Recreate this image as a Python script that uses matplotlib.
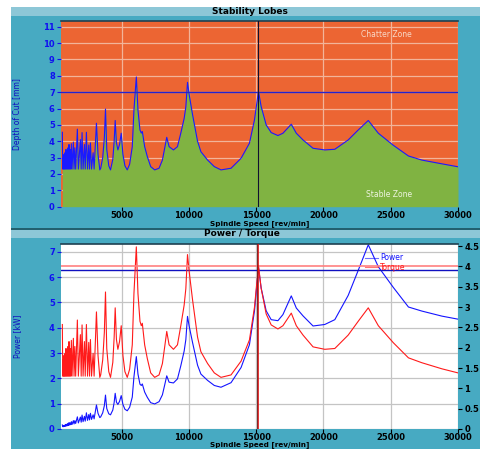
import matplotlib
matplotlib.use('Agg')
import matplotlib.pyplot as plt
from matplotlib.patches import Rectangle
from matplotlib.ticker import FuncFormatter

# spindle speed [rev/min] at the points
rpm = [600, 630, 665, 695, 730, 760, 800, 830, 870, 905, 945, 980, 1020, 1060,
       1095, 1140, 1180, 1225, 1269, 1320, 1418, 1470, 1530, 1590, 1716, 1790,
       1940, 2000, 2065, 2140, 2239, 2300, 2388, 2470, 2562, 2620, 2687, 2770,
       2886, 2960, 3134, 3250, 3383, 3450, 3600, 3720, 3806, 3900, 4050, 4179,
       4350, 4450, 4527, 4620, 4726, 4850, 4975, 5100, 5250, 5423, 5600, 5796,
       5920, 6097, 6219, 6368, 6468, 6542, 6716, 6915, 7164, 7463, 7786, 8035,
       8209, 8358, 8532, 8856, 9154, 9403, 9652, 9776, 9900, 10025, 10274,
       10647, 10896, 11393, 11891, 12388, 13134, 13881, 14502, 14875, 15174,
       15373, 15746, 16119, 16617, 16990, 17612, 17985, 18483, 19229, 20100,
       20846, 21841, 22587, 23333, 24080, 25199, 26318, 27313, 28806, 30000]

# stability limit, depth of cut [mm]
depth = [4.55, 2.30, 3.00, 2.30, 3.20, 2.30, 3.30, 2.30, 3.50, 2.30, 3.40, 2.30,
         3.60, 2.30, 3.80, 2.30, 3.50, 2.30, 3.85, 2.30, 3.95, 2.30, 3.60, 2.30,
         4.74, 2.30, 4.10, 2.30, 4.53, 2.30, 3.80, 2.30, 4.55, 2.30, 3.77, 2.30,
         3.90, 2.30, 3.30, 2.30, 5.10, 3.20, 2.25, 2.35, 3.00, 4.20, 5.97, 3.50,
         2.50, 2.25, 2.90, 4.00, 5.27, 3.90, 3.47, 3.80, 4.49, 3.20, 2.50, 2.25,
         2.60, 3.67, 5.90, 7.93, 5.90, 4.69, 4.50, 4.60, 3.67, 3.06, 2.45, 2.25,
         2.35, 2.85, 3.60, 4.24, 3.67, 3.47, 3.67, 4.50, 5.40, 6.10, 7.60, 6.85,
         5.63, 4.00, 3.36, 2.85, 2.45, 2.25, 2.35, 2.96, 3.88, 5.30, 7.05, 6.12,
         5.00, 4.53, 4.35, 4.49, 5.04, 4.49, 4.08, 3.57, 3.47, 3.51, 4.08, 4.69,
         5.27, 4.49, 3.75, 3.10, 2.85, 2.62, 2.44]

# spindle power [kW]
power = [0.16, 0.09, 0.12, 0.09, 0.14, 0.10, 0.16, 0.11, 0.18, 0.12, 0.19, 0.13,
         0.22, 0.14, 0.25, 0.16, 0.24, 0.17, 0.29, 0.18, 0.33, 0.20, 0.33, 0.22,
         0.48, 0.24, 0.47, 0.27, 0.55, 0.29, 0.50, 0.31, 0.64, 0.34, 0.57, 0.36,
         0.62, 0.38, 0.56, 0.40, 0.95, 0.62, 0.45, 0.48, 0.64, 0.92, 1.34, 0.81,
         0.60, 0.56, 0.75, 1.05, 1.41, 1.06, 0.97, 1.09, 1.32, 0.97, 0.78, 0.72,
         0.86, 1.26, 2.06, 2.86, 2.17, 1.77, 1.72, 1.78, 1.46, 1.25, 1.04, 0.99,
         1.08, 1.35, 1.75, 2.10, 1.85, 1.82, 1.98, 2.50, 3.08, 3.53, 4.45, 4.06,
         3.42, 2.52, 2.17, 1.92, 1.72, 1.65, 1.83, 2.43, 3.33, 4.66, 6.39, 5.57,
         4.67, 4.32, 4.28, 4.52, 5.26, 4.78, 4.47, 4.07, 4.13, 4.32, 5.28, 6.27,
         7.28, 6.41, 5.59, 4.82, 4.66, 4.46, 4.34]

# spindle torque [Nm]
torque = [2.57, 1.30, 1.70, 1.30, 1.81, 1.30, 1.86, 1.30, 1.98, 1.30, 1.92, 1.30,
          2.03, 1.30, 2.15, 1.30, 1.98, 1.30, 2.18, 1.30, 2.23, 1.30, 2.03, 1.30,
          2.68, 1.30, 2.32, 1.30, 2.56, 1.30, 2.15, 1.30, 2.57, 1.30, 2.13, 1.30,
          2.20, 1.30, 1.86, 1.30, 2.88, 1.81, 1.27, 1.33, 1.70, 2.37, 3.37, 1.98,
          1.41, 1.27, 1.64, 2.26, 2.98, 2.20, 1.96, 2.15, 2.54, 1.81, 1.41, 1.27,
          1.47, 2.07, 3.33, 4.48, 3.33, 2.65, 2.54, 2.60, 2.07, 1.73, 1.38, 1.27,
          1.33, 1.61, 2.03, 2.40, 2.07, 1.96, 2.07, 2.54, 3.05, 3.45, 4.29, 3.87,
          3.18, 2.26, 1.90, 1.61, 1.38, 1.27, 1.33, 1.67, 2.19, 2.99, 4.02, 3.46,
          2.83, 2.56, 2.46, 2.54, 2.85, 2.54, 2.31, 2.02, 1.96, 1.98, 2.31, 2.65,
          2.98, 2.54, 2.12, 1.75, 1.63, 1.48, 1.38]

depth_limit = 7.0
power_limit = 6.3
torque_limit = 4.0
marker_rpm = 15150

teal = '#47aac2'
bar = '#8dc7d7'
orange = '#ec6533'
green = '#80b342'

W, H = 480, 449
fig = plt.figure(figsize=(W / 100, H / 100), dpi=100)
fig.patch.set_facecolor('white')


def fx(px):
    return px / W


def fy(py):
    return 1 - py / H


# panel backgrounds
fig.patches.append(Rectangle((fx(11), fy(228)), 1, fy(7) - fy(228), transform=fig.transFigure,
                             facecolor=teal, edgecolor='none', zorder=-5))
fig.patches.append(Rectangle((fx(11), fy(16)), 1, fy(7) - fy(16), transform=fig.transFigure,
                             facecolor=bar, edgecolor='none', zorder=-4))
fig.patches.append(Rectangle((fx(11), 0), 1, fy(228), transform=fig.transFigure,
                             facecolor=teal, edgecolor='none', zorder=-5))
fig.patches.append(Rectangle((fx(11), fy(238)), 1, fy(229.5) - fy(238), transform=fig.transFigure,
                             facecolor=bar, edgecolor='none', zorder=-4))
fig.patches.append(Rectangle((fx(11), fy(229.5)), 1, fy(227.5) - fy(229.5), transform=fig.transFigure,
                             facecolor='#22606f', edgecolor='none', zorder=-4))

fig.text(0.52, fy(11.5), 'Stability Lobes', ha='center', va='center', fontsize=6.5, fontweight='bold')
fig.text(0.505, fy(233.8), 'Power / Torque', ha='center', va='center', fontsize=6.5, fontweight='bold')

ax_w = fx(458) - fx(61)


def style_x(ax, label_y):
    ax.set_xlim(500, 30000)
    ax.set_xticks([5000, 10000, 15000, 20000, 25000, 30000])
    ax.tick_params(axis='x', length=3, width=0.8, pad=0, labelsize=6, colors='black')
    for t in ax.get_xticklabels():
        t.set_fontweight('bold')
    ax.set_xlabel('Spindle Speed [rev/min]', fontsize=5.2, fontweight='bold', va='center')
    ax.xaxis.set_label_coords(0.5, label_y)
    for s in ['left', 'right', 'bottom']:
        ax.spines[s].set_visible(False)
    ax.spines['top'].set_color('#1f4050')
    ax.spines['top'].set_linewidth(1.2)


# stability lobes
ax1 = fig.add_axes([fx(61), fy(206.7), ax_w, fy(21) - fy(206.7)])
ax1.set_facecolor(orange)
ax1.set_axisbelow(True)
ax1.grid(True, color='#f2b49a', linewidth=0.9)
ax1.fill_between(rpm, 0, depth, color=green, linewidth=0, zorder=1)
ax1.plot(rpm, depth, color='#1a1aff', linewidth=0.8, zorder=3)
ax1.axhline(depth_limit, color='#2323d0', linewidth=1.0, zorder=3)
ax1.axvline(marker_rpm, color='#101030', linewidth=0.8, zorder=4)
ax1.set_ylim(0, 11.35)
ax1.set_yticks(range(0, 12))
ax1.tick_params(axis='y', length=3, width=0.8, pad=1.5, labelsize=6, colors='#1010f0')
for t in ax1.get_yticklabels():
    t.set_fontweight('bold')
ax1.set_ylabel('Depth of Cut [mm]', fontsize=5.5, color='#1010c0')
ax1.yaxis.set_label_coords(-0.097, 0.5)
style_x(ax1, -0.092)
ax1.text(24700, 10.5, 'Chatter Zone', ha='center', va='center', fontsize=5.5, color='#f8d8c8')
ax1.text(24900, 0.75, 'Stable Zone', ha='center', va='center', fontsize=5.5, color='#eef4e0')

# power / torque
ax2 = fig.add_axes([fx(61), fy(429), ax_w, fy(244) - fy(429)])
ax2.set_facecolor('white')
ax2.set_axisbelow(True)
ax2.grid(True, color='#c4c4c4', linewidth=0.9)
ax2.plot(rpm, power, color='#1414ff', linewidth=0.8, label='Power')
ax2.axhline(power_limit, color='#1010c0', linewidth=1.0)
ax2.set_ylim(0, 7.31)
ax2.set_yticks(range(0, 8))
ax2.tick_params(axis='y', length=3, width=0.8, pad=1.5, labelsize=6, colors='#1010f0')
for t in ax2.get_yticklabels():
    t.set_fontweight('bold')
ax2.set_ylabel('Power [kW]', fontsize=5.5, color='#1010c0')
ax2.yaxis.set_label_coords(-0.097, 0.5)
style_x(ax2, -0.085)

ax3 = ax2.twinx()
ax3.plot(rpm, torque, color='#ff1a1a', linewidth=0.8, label='Torque')
ax3.axhline(torque_limit, color='#ff8080', linewidth=1.2)
ax3.axvline(marker_rpm, color='#e01010', linewidth=1.2)
ax3.axvline(marker_rpm - 60, color='#602020', linewidth=0.5)
ax3.set_ylim(0, 4.55)
ax3.set_yticks([0, 0.5, 1, 1.5, 2, 2.5, 3, 3.5, 4, 4.5])
ax3.yaxis.set_major_formatter(FuncFormatter(lambda v, p: ('%g' % v)))
ax3.tick_params(axis='y', length=3, width=0.8, pad=1.5, labelsize=6, colors='black')
for t in ax3.get_yticklabels():
    t.set_fontweight('bold')
for s in ['left', 'right', 'bottom', 'top']:
    ax3.spines[s].set_visible(False)

h1, l1 = ax2.get_legend_handles_labels()
h2, l2 = ax3.get_legend_handles_labels()
leg = ax3.legend(h1 + h2, l1 + l2, loc='upper left', bbox_to_anchor=(0.755, 0.97),
                 fontsize=5.5, frameon=False, handlelength=1.8, handletextpad=0.2,
                 labelspacing=0.1, borderpad=0, labelcolor='linecolor')
for line in leg.get_lines():
    line.set_alpha(0.6)

plt.savefig('out.png', dpi=100)
